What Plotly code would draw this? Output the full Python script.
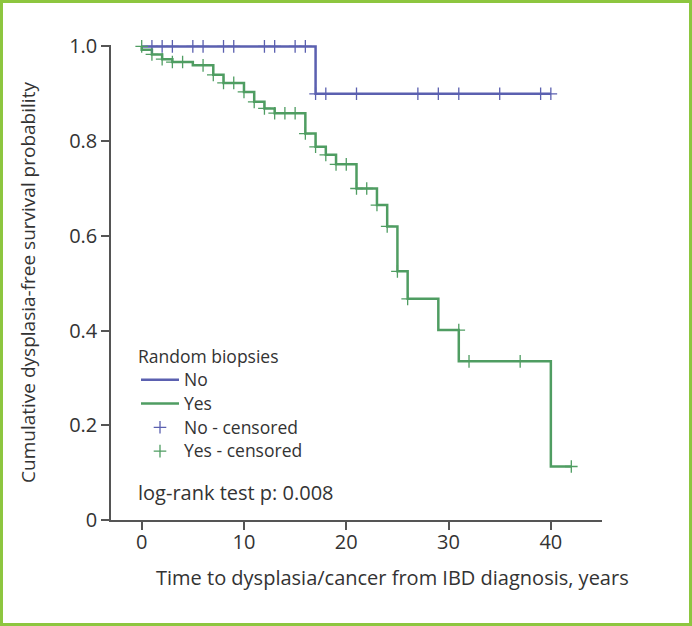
import plotly.graph_objects as go

# ---- data ----
no_times = [0, 17, 40]
no_surv = [1.0, 0.9, 0.9]
no_cens_times = [1, 2, 3, 5, 6, 8, 9, 12, 13, 15, 16, 17, 18, 21, 27, 29, 31, 35, 39, 40]
no_cens_surv = [1.0] * 11 + [0.9] * 9

yes_times = [0, 0, 1, 2, 3, 5, 7, 8, 10, 11, 12, 13, 16, 17, 18, 19, 21, 23, 24, 25, 26, 29, 31, 40, 42]
yes_surv = [1.0, 0.993, 0.983, 0.973, 0.967, 0.960, 0.940, 0.923, 0.904, 0.883, 0.869, 0.859,
            0.816, 0.788, 0.771, 0.751, 0.700, 0.665, 0.620, 0.525, 0.467, 0.401, 0.335, 0.113, 0.113]
yes_cens_times = [0, 1, 2, 3, 4, 6, 7, 8, 9, 10, 11, 12, 13, 14, 15, 16, 17, 18, 19, 20, 21, 22,
                  23, 24, 25, 26, 31, 32, 37, 42]
yes_cens_surv = [1.0, 0.983, 0.973, 0.967, 0.967, 0.960, 0.940, 0.923, 0.923, 0.904, 0.883, 0.869,
                 0.859, 0.859, 0.859, 0.816, 0.788, 0.771, 0.751, 0.751, 0.700, 0.700, 0.665, 0.620,
                 0.525, 0.467, 0.401, 0.335, 0.335, 0.113]

series_names = ["No", "Yes", "No - censored", "Yes - censored"]
legend_title = "Random biopsies"
x_ticks = [0, 10, 20, 30, 40]
y_ticks = [0, 0.2, 0.4, 0.6, 0.8, 1.0]
y_tick_text = ["0", "0.2", "0.4", "0.6", "0.8", "1.0"]

BLUE = "#5b60b0"
GREEN = "#4f9d62"
AXIS = "#555555"
TEXT = "#333333"
FONT = "Open Sans"


def big(s):
    # legend rows keep a compact line height while glyphs render slightly larger
    return '<span style="font-size:17.5px">' + s + '</span>'


fig = go.Figure()
fig.add_trace(go.Scatter(x=no_times, y=no_surv, mode="lines", line=dict(color=BLUE, width=2.5, shape="hv"),
                         name=big(series_names[0])))
fig.add_trace(go.Scatter(x=yes_times, y=yes_surv, mode="lines", line=dict(color=GREEN, width=2.5, shape="hv"),
                         name=big(series_names[1])))
fig.add_trace(go.Scatter(x=no_cens_times, y=no_cens_surv, mode="markers", name=big(series_names[2]),
                         marker=dict(symbol="cross-thin", size=9, line=dict(color=BLUE, width=1.3)),
                         cliponaxis=False))
fig.add_trace(go.Scatter(x=yes_cens_times, y=yes_cens_surv, mode="markers", name=big(series_names[3]),
                         marker=dict(symbol="cross-thin", size=9, line=dict(color=GREEN, width=1.3)),
                         cliponaxis=False))

W, H = 692, 626
ml, mr, mt, mb = 111, 90, 45, 106
pw, ph = W - ml - mr, H - mt - mb


def px_x(p):
    return (p - ml) / pw


def px_y(p):
    return (H - mb - p) / ph


fig.update_layout(
    width=W, height=H,
    margin=dict(l=ml, r=mr, t=mt, b=mb, pad=0, autoexpand=False),
    paper_bgcolor="white", plot_bgcolor="white",
    font=dict(family=FONT, size=16, color=TEXT),
    showlegend=True,
    legend=dict(
        title=dict(text=big(legend_title), font=dict(size=16)),
        x=px_x(136), y=px_y(342), xanchor="left", yanchor="top",
        bgcolor="rgba(0,0,0,0)", font=dict(size=16), tracegroupgap=0, itemwidth=38,
    ),
    xaxis=dict(
        range=[-3, 45], tickvals=x_ticks, showline=True, linecolor=AXIS, linewidth=1.5,
        ticks="outside", ticklen=8, tickcolor=AXIS, tickwidth=1.5, showgrid=False, zeroline=False,
        tickfont=dict(size=20), automargin=False, ticklabelstandoff=-5,
    ),
    yaxis=dict(
        range=[0, 1.003], tickvals=y_ticks, ticktext=y_tick_text, showline=True, linecolor=AXIS,
        linewidth=1.5, ticks="outside", ticklen=8, tickcolor=AXIS, tickwidth=1.5, showgrid=False,
        zeroline=False, tickfont=dict(size=20), automargin=False,
        title=dict(text="Cumulative dysplasia-free survival probability", standoff=28, font=dict(size=19)),
    ),
    annotations=[
        dict(text="log-rank test p: 0.008", xref="paper", yref="paper",
             x=px_x(136), y=px_y(492), xanchor="left", yanchor="middle",
             showarrow=False, font=dict(size=20)),
        dict(text="Time to dysplasia/cancer from IBD diagnosis, years", xref="paper", yref="paper",
             x=px_x(392), y=px_y(577), xanchor="center", yanchor="middle",
             showarrow=False, font=dict(size=20)),
    ],
    shapes=[dict(type="rect", xref="paper", yref="paper", layer="above",
                 x0=px_x(1.5), x1=px_x(W - 1.5), y0=px_y(H - 1.5), y1=px_y(1.5),
                 line=dict(color="#8dc63f", width=3))],
)

fig.write_html("out.html", config={"displayModeBar": False},
               post_script="document.body.style.margin='0';")
